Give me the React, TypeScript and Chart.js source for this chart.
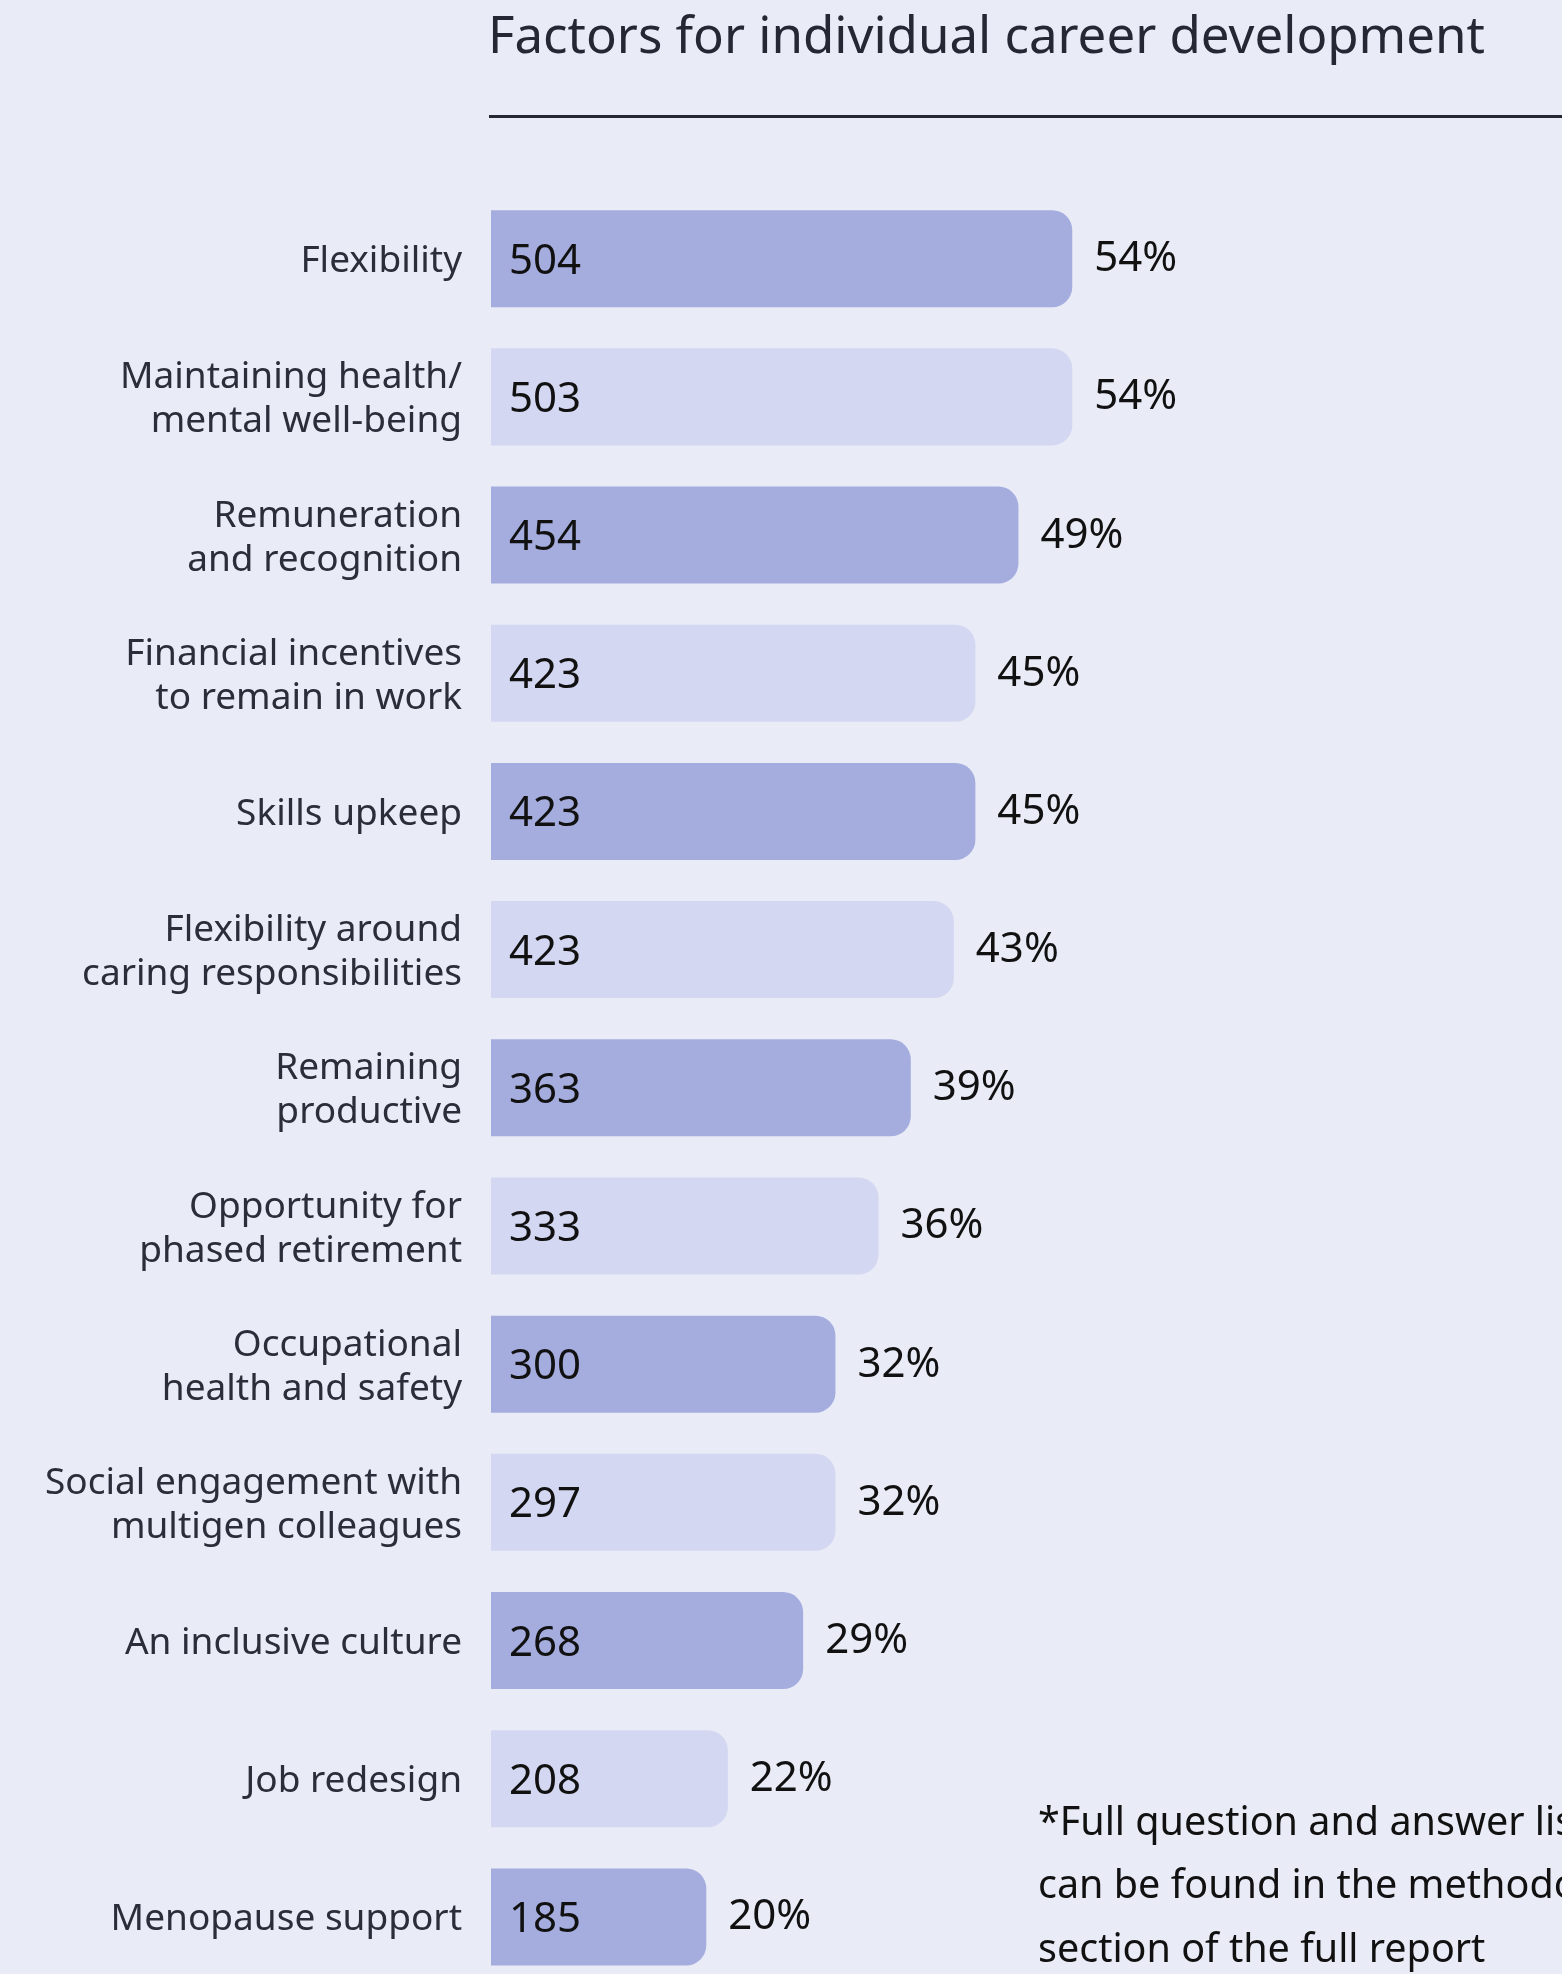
import React, { useEffect, useRef } from "react";
import { Chart, registerables } from "chart.js";

Chart.register(...registerables);

const categories: string[][] = [
  ["Flexibility"],
  ["Maintaining health/", "mental well-being"],
  ["Remuneration", "and recognition"],
  ["Financial incentives", "to remain in work"],
  ["Skills upkeep"],
  ["Flexibility around", "caring responsibilities"],
  ["Remaining", "productive"],
  ["Opportunity for", "phased retirement"],
  ["Occupational", "health and safety"],
  ["Social engagement with", "multigen colleagues"],
  ["An inclusive culture"],
  ["Job redesign"],
  ["Menopause support"],
];

const counts: number[] = [504, 503, 454, 423, 423, 423, 363, 333, 300, 297, 268, 208, 185];
const percents: number[] = [54, 54, 49, 45, 45, 43, 39, 36, 32, 32, 29, 22, 20];

const titleText = "Factors for individual career development";
const footnoteLines: string[] = [
  "*Full question and answer lists",
  "can be found in the methodology",
  "section of the full report",
];

const BG = "#E9EBF6";
const DARK = "#A5ADDF";
const LIGHT = "#D3D7F1";
const FONT = '"Noto Sans", "Open Sans", sans-serif';
const CANVAS_H = 2040;

export default function App() {
  const ref = useRef<HTMLCanvasElement | null>(null);

  useEffect(() => {
    if (!ref.current) return;

    const decor = {
      id: "decor",
      beforeDraw(chart: any) {
        const ctx = chart.ctx;
        ctx.save();
        ctx.fillStyle = BG;
        ctx.fillRect(0, 0, chart.width, chart.height);
        ctx.restore();
      },
      afterDraw(chart: any) {
        const ctx = chart.ctx;
        ctx.save();
        ctx.fillStyle = "#252834";
        ctx.textAlign = "left";
        ctx.textBaseline = "alphabetic";
        ctx.font = `51px ${FONT}`;
        ctx.fillText(titleText, 488, 53);
        ctx.fillStyle = "#252834";
        ctx.fillRect(489, 115, chart.width - 489, 3);
        ctx.fillStyle = "#111111";
        ctx.font = `39.5px ${FONT}`;
        footnoteLines.forEach((line, i) => {
          ctx.fillText(line, 1038, 1835 + i * 63.3);
        });
        ctx.restore();
      },
    };

    const valueLabels = {
      id: "valueLabels",
      afterDatasetsDraw(chart: any) {
        const ctx = chart.ctx;
        const meta = chart.getDatasetMeta(0);
        ctx.save();
        ctx.textBaseline = "alphabetic";
        ctx.textAlign = "left";
        ctx.fillStyle = "#111111";
        ctx.font = `42px ${FONT}`;
        meta.data.forEach((bar: any, i: number) => {
          const { x, y, base } = bar.getProps(["x", "y", "base"], true);
          ctx.fillText(String(counts[i]), base + 18, y + 15);
          ctx.fillText(percents[i] + "%", x + 22, y + 12.5);
        });
        ctx.restore();
      },
    };

    const chart = new Chart(ref.current, {
      type: "bar",
      data: {
        labels: categories,
        datasets: [
          {
            data: percents,
            backgroundColor: percents.map((_, i) => (i % 2 === 0 ? DARK : LIGHT)),
            borderWidth: 0,
            borderRadius: 20,
            borderSkipped: "start",
            barPercentage: 0.702,
            categoryPercentage: 1,
          },
        ],
      },
      options: {
        indexAxis: "y",
        animation: false,
        responsive: false,
        maintainAspectRatio: false,
        devicePixelRatio: 1,
        layout: { padding: { left: 0, right: 0, top: 189.6, bottom: CANVAS_H - 1986 } },
        plugins: {
          legend: { display: false },
          tooltip: { enabled: false },
          title: { display: false },
        },
        scales: {
          x: {
            display: false,
            min: 0,
            max: 99.5,
          },
          y: {
            grid: { display: false, drawTicks: false },
            border: { display: false },
            ticks: {
              padding: 29,
              labelOffset: 3,
              color: "#2B2E3A",
              font: { family: FONT, size: 37, lineHeight: 1.19 },
              autoSkip: false,
            },
            afterFit(scale: any) {
              scale.width = 491;
            },
          },
        },
      },
      plugins: [decor, valueLabels],
    } as any);

    return () => chart.destroy();
  }, []);

  return (
    <div
      style={{
        position: "absolute",
        left: 0,
        top: 0,
        width: 1562,
        height: 1974,
        overflow: "hidden",
        background: BG,
      }}
    >
      <div style={{ position: "relative", width: 1562, height: CANVAS_H }}>
        <canvas
          ref={ref}
          width={1562}
          height={CANVAS_H}
          style={{ display: "block", width: 1562, height: CANVAS_H }}
        />
      </div>
    </div>
  );
}
